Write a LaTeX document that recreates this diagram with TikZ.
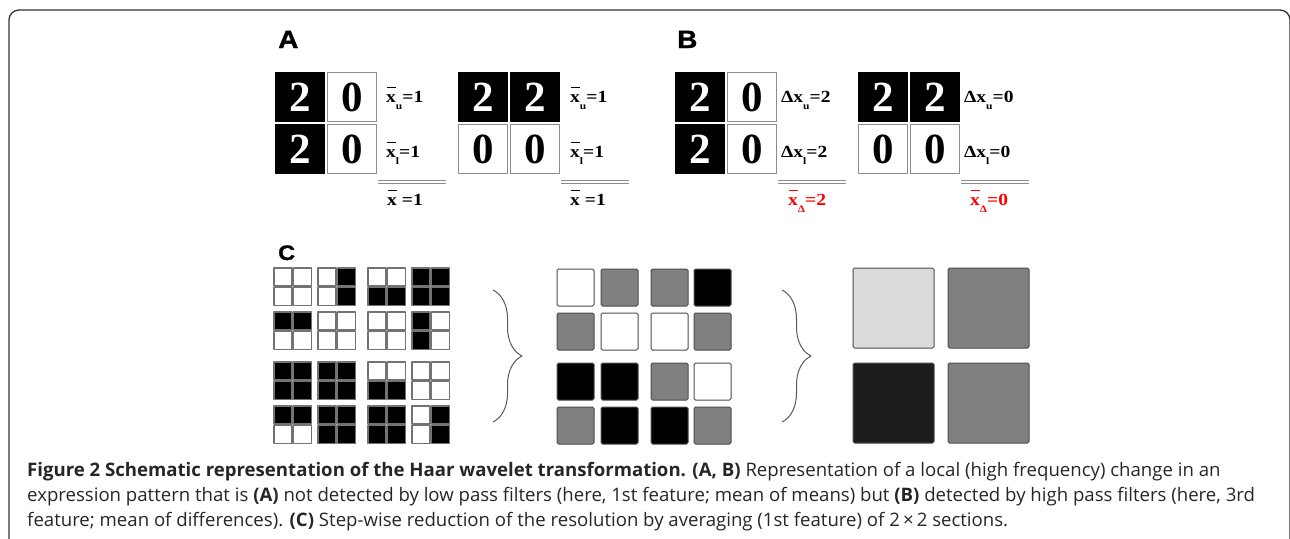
\documentclass[tikz,border=0pt]{standalone}
\usepackage{fontspec}
\setmainfont{Liberation Serif}
\newfontfamily\capfont{Open Sans}
\newfontfamily\headfont[FakeStretch=1.12, FakeBold=1.2]{Liberation Sans}
\newfontfamily\lblfont[FakeStretch=1.15]{Liberation Serif}
\usetikzlibrary{decorations.pathreplacing}

% x with a bar, and a dropped index
\newcommand\barx{\leavevmode\rlap{\kern0.03em\rule[0.8em]{0.52em}{0.11em}}x}
\newcommand\lo[1]{\raisebox{-0.45em}{\fontsize{10}{10}\selectfont #1}}

\begin{document}
\begin{tikzpicture}[x=1pt, y=-1pt, line join=round,
  dark/.style={draw=black, fill=black, text=white},
  light/.style={draw=black!45, fill=white, text=black},
  cell/.code={\ifnum#1=2 \tikzset{dark}\else\tikzset{light}\fi},
  box/.style={minimum size=49pt, inner sep=0pt, line width=1pt, font=\fontsize{43}{43}\selectfont\bfseries},
  lbl/.style={anchor=base west, inner sep=0pt, font=\lblfont\fontsize{17}{17}\selectfont\bfseries},
  hd/.style={anchor=base west, inner sep=0pt, font=\headfont\bfseries\fontsize{25}{25}\selectfont},
  dline/.style={draw=black!45, line width=0.7pt, double distance=2pt},
  px/.style={draw=black!55, line width=1.2pt},
  sq/.style={draw=black!70, line width=1pt, rounded corners=1.5pt},
  brc/.style={draw=black!65, line width=1pt, decorate, decoration={brace, amplitude=29pt}},
  captext/.style={anchor=base west, inner sep=0pt, text=black!85, font=\capfont\fontsize{18.6}{25}\selectfont}]
\useasboundingbox (0,0) rectangle (1290,538);
\begin{scope}
  \clip (0,0) rectangle (1290,538);
  \draw[black!80, line width=1.3pt, rounded corners=10pt] (9,10) rectangle (1290,600);
\end{scope}

% A and B: two 2x2 blocks each
\node[hd] (ha) at (278,48) {A};
\node[hd] (hb) at (677,48) {B};
\foreach \bx/\nm/\ta/\tb/\tc/\td in {300/a1/2/0/2/0, 483/a2/2/2/0/0, 700/b1/2/0/2/0, 883/b2/2/2/0/0}{
  \node[box, cell=\ta] (\nm-tl) at (\bx,97) {\ta};
  \node[box, cell=\tb] (\nm-tr) at (\bx+52,97) {\tb};
  \node[box, cell=\tc] (\nm-bl) at (\bx,149) {\tc};
  \node[box, cell=\td] (\nm-br) at (\bx+52,149) {\td};
  \draw[dline] (\bx+78,182) -- ++(68,0);
}
\node[lbl] (a1-u) at (386,102) {\barx\lo{u}=1};
\node[lbl] (a1-l) at (386,157) {\barx\lo{l}=1};
\node[lbl] (a1-m) at (387,205) {\barx\ =1};
\node[lbl] (a2-u) at (570,102) {\barx\lo{u}=1};
\node[lbl] (a2-l) at (570,157) {\barx\lo{l}=1};
\node[lbl] (a2-m) at (570,205) {\barx\ =1};
\node[lbl] (b1-u) at (781,102) {Δx\lo{u}=2};
\node[lbl] (b1-l) at (781,157) {Δx\lo{l}=2};
\node[lbl, text=red] (b1-m) at (788,205) {\barx\lo{Δ}=2};
\node[lbl] (b2-u) at (964,102) {Δx\lo{u}=0};
\node[lbl] (b2-l) at (964,157) {Δx\lo{l}=0};
\node[lbl, text=red] (b2-m) at (970,205) {\barx\lo{Δ}=0};

% C: 16 small 2x2 grids
\node[hd, font=\headfont\bfseries\fontsize{21}{21}\selectfont] (hc) at (278,260) {C};
\foreach \gx/\gy/\a/\b/\c/\d in {274/268/0/0/0/0, 318/268/0/100/0/100, 368/268/0/0/100/100, 412/268/100/100/100/100,
  274/312/100/100/0/0, 318/312/0/0/0/0, 368/312/0/0/0/0, 412/312/100/0/100/0,
  274/362/100/100/100/100, 318/362/100/100/100/100, 368/362/0/0/100/100, 412/362/0/0/0/0,
  274/406/100/100/0/0, 318/406/100/100/100/100, 368/406/100/100/100/100, 412/406/0/100/0/100}{
  \draw[px, fill=black!\a] (\gx,\gy) rectangle ++(18,18);
  \draw[px, fill=black!\b] (\gx+19.5,\gy) rectangle ++(18,18);
  \draw[px, fill=black!\c] (\gx,\gy+19.5) rectangle ++(18,18);
  \draw[px, fill=black!\d] (\gx+19.5,\gy+19.5) rectangle ++(18,18);
}

% means of the small grids
\foreach \gx/\gy/\s in {557/269/0, 601/269/50, 651/269/50, 694/269/100,
  557/313/50, 601/313/0, 651/313/0, 694/313/50,
  557/363/100, 601/363/100, 651/363/50, 694/363/0,
  557/407/50, 601/407/100, 651/407/100, 694/407/50}
  \draw[sq, fill=black!\s] (\gx,\gy) rectangle ++(37,37);

% means once more
\foreach \gx/\gy/\s in {853/268/14, 948/268/50, 853/363/89, 948/363/50}
  \draw[sq, fill=black!\s] (\gx,\gy) rectangle ++(81,80);

\coordinate (br1-t) at (493,290);
\coordinate (br1-b) at (493,422);
\coordinate (br2-t) at (782,290);
\coordinate (br2-b) at (782,422);
\draw[brc] (br1-t) -- (br1-b);
\draw[brc] (br2-t) -- (br2-b);

% caption
\node[captext] (cap1) at (27,476) {\textbf{Figure 2 Schematic representation of the Haar wavelet transformation. (A, B)} Representation of a local (high frequency) change in an};
\node[captext] (cap2) at (27,501) {expression pattern that is \textbf{(A)} not detected by low pass filters (here, 1st feature; mean of means) but \textbf{(B)} detected by high pass filters (here, 3rd};
\node[captext] (cap3) at (27,526) {feature; mean of differences). \textbf{(C)} Step-wise reduction of the resolution by averaging (1st feature) of 2\,×\,2 sections.};
\end{tikzpicture}
\end{document}
